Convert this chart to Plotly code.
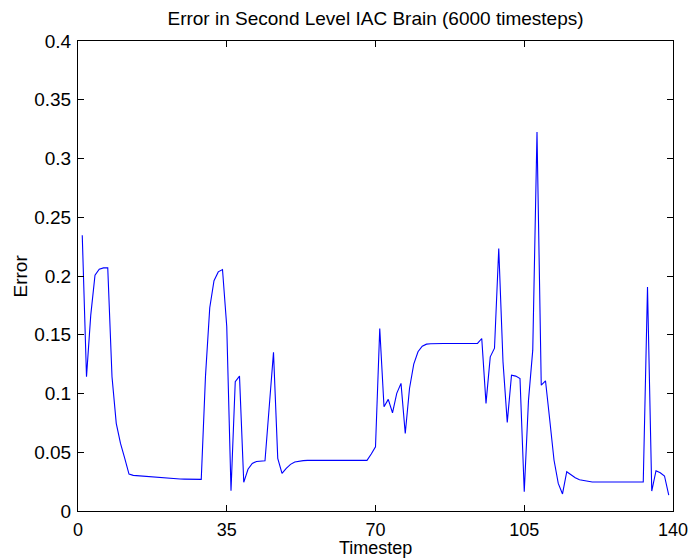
import plotly.graph_objects as go

timesteps = list(range(1, 140))

error_values = [
    0.2347, 0.1142, 0.1667, 0.2007, 0.2058, 0.2069, 0.2069, 0.1142, 0.0746, 0.0575,
    0.0448, 0.0314, 0.0303, 0.0300, 0.0296, 0.0292, 0.0288, 0.0284, 0.0281, 0.0278,
    0.0276, 0.0274, 0.0273, 0.0272, 0.0271, 0.0270, 0.0270, 0.0269, 0.0269, 0.1150,
    0.1730, 0.1960, 0.2035, 0.2055, 0.1570, 0.0173, 0.1100, 0.1148, 0.0244, 0.0355,
    0.0405, 0.0422, 0.0427, 0.0428, 0.0890, 0.1350, 0.0448, 0.0320, 0.0363, 0.0397,
    0.0417, 0.0425, 0.0429, 0.0431, 0.0431, 0.0431, 0.0431, 0.0431, 0.0431, 0.0431,
    0.0431, 0.0431, 0.0431, 0.0431, 0.0431, 0.0431, 0.0431, 0.0431, 0.0485, 0.0547,
    0.1553, 0.0887, 0.0950, 0.0836, 0.1001, 0.1086, 0.0660, 0.1043, 0.1250, 0.1355,
    0.1403, 0.1420, 0.1423, 0.1426, 0.1426, 0.1426, 0.1426, 0.1426, 0.1426, 0.1426,
    0.1426, 0.1426, 0.1426, 0.1426, 0.1468, 0.0916, 0.1312, 0.1386, 0.2234, 0.1270,
    0.0754, 0.1156, 0.1148, 0.1128, 0.0164, 0.0944, 0.1369, 0.3225, 0.1071, 0.1108,
    0.0774, 0.0434, 0.0235, 0.0145, 0.0334, 0.0306, 0.0283, 0.0266, 0.0258, 0.0252,
    0.0247, 0.0247, 0.0247, 0.0247, 0.0247, 0.0247, 0.0247, 0.0247, 0.0247, 0.0247,
    0.0247, 0.0247, 0.0247, 0.1907, 0.0170, 0.0343, 0.0326, 0.0298, 0.0136,
]

x_ticks = [0, 35, 70, 105, 140]
y_ticks = [0, 0.05, 0.1, 0.15, 0.2, 0.25, 0.3, 0.35, 0.4]
y_tick_labels = ["0", "0.05", "0.1", "0.15", "0.2", "0.25", "0.3", "0.35", "0.4"]

FONT = "Liberation Sans, Arial, Helvetica, sans-serif"

fig = go.Figure()
fig.add_trace(go.Scatter(
    x=timesteps, y=error_values, mode="lines",
    line=dict(color="#0000ff", width=1.1),
    showlegend=False, hoverinfo="x+y",
))

axis_common = dict(
    showgrid=False, zeroline=False, showline=True, linecolor="black", linewidth=1,
    mirror="ticks", ticks="inside", ticklen=6, tickwidth=1, tickcolor="black",
    automargin=False,
)

PLOT_W = 694 - 78 - 21
PLOT_H = 560 - 41 - 49

fig.update_layout(
    width=694, height=560,
    margin=dict(l=78, r=21, t=41, b=49),
    paper_bgcolor="white", plot_bgcolor="white",
    title=dict(
        text="Error in Second Level IAC Brain (6000 timesteps)",
        font=dict(family=FONT, size=19, color="black"),
        x=(78 + 673) / 2 / 694, xanchor="center",
        y=1 - 18 / 560, yanchor="middle", yref="container",
    ),
    xaxis=dict(
        range=[0, 140], tickvals=x_ticks, ticktext=[str(v) for v in x_ticks],
        ticklabelstandoff=2,
        tickfont=dict(family=FONT, size=18, color="black"),
        **axis_common,
    ),
    yaxis=dict(
        range=[0, 0.4], tickvals=y_ticks, ticktext=y_tick_labels,
        ticklabelstandoff=2,
        tickfont=dict(family=FONT, size=19, color="black"),
        **axis_common,
    ),
    annotations=[
        dict(
            text="Timestep", xref="paper", yref="paper",
            x=0.5, y=-(560 - 511) / PLOT_H, xanchor="center", yanchor="bottom",
            showarrow=False, font=dict(family=FONT, size=18, color="black"),
        ),
        dict(
            text="Error", xref="paper", yref="paper",
            x=(19.5 - 78) / PLOT_W, y=0.5, xanchor="center", yanchor="middle",
            textangle=-90, showarrow=False,
            font=dict(family=FONT, size=19, color="black"),
        ),
    ],
)

fig.write_html("out.html")
